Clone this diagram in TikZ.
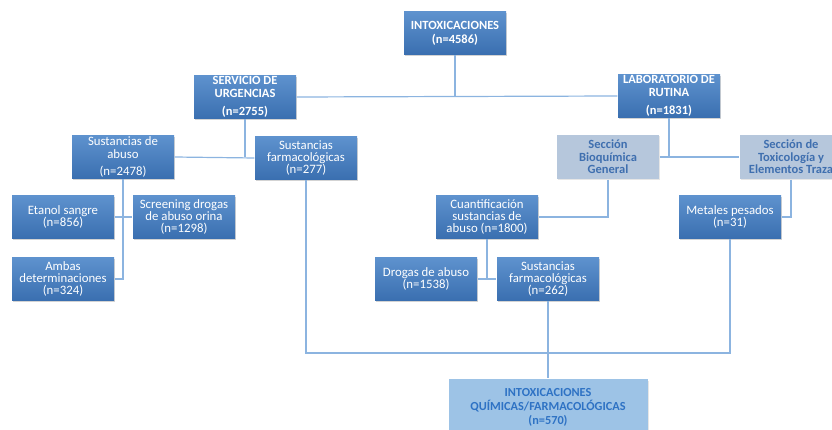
\documentclass[tikz,border=0pt]{standalone}
\usepackage{fontspec}
\setmainfont{Carlito}
\usepackage{tikz}
\usetikzlibrary{positioning,shadows}
\usepackage{xcolor}

\definecolor{boxtop}{HTML}{5E92CE}
\definecolor{boxbot}{HTML}{3A6FB0}
\definecolor{linkblue}{HTML}{8CB4E0}
\definecolor{greybox}{HTML}{B6C7DC}
\definecolor{greytext}{HTML}{3F6FAF}
\definecolor{paleblue}{HTML}{9DC3E6}
\definecolor{deepblue}{HTML}{2E72C4}

\begin{document}
\begin{tikzpicture}[
x=1pt,
y=-1pt,
line width=1.2pt,
font=\fontsize{12.8}{12.2}\selectfont,
every node/.style={align=center, inner sep=1pt},
bluebox/.style={
minimum width=102pt,
minimum height=43pt,
top color=boxtop,
bottom color=boxbot,
text=white,
drop shadow={shadow xshift=1pt, shadow yshift=-1.5pt, opacity=0.35}
},
greybox/.style={
minimum width=102pt,
minimum height=44pt,
fill=greybox,
text=greytext,
font=\fontsize{12.5}{12.5}\selectfont\bfseries,
drop shadow={shadow xshift=1pt, shadow yshift=-1.5pt, opacity=0.2}
},
endbox/.style={
minimum width=199pt,
minimum height=56pt,
fill=paleblue,
text=deepblue,
font=\fontsize{12.3}{14}\selectfont\bfseries,
drop shadow={shadow xshift=1pt, shadow yshift=-1.5pt, opacity=0.2}
},
link/.style={draw=linkblue}
]

\useasboundingbox (0,0) rectangle (832,430);

\node[bluebox,font=\fontsize{12.5}{14}\selectfont\bfseries] (intox) at (455,33) {INTOXICACIONES\\(n=4586)};
\node[bluebox,font=\fontsize{12.5}{13}\selectfont\bfseries] (serv) at (245,97) {SERVICIO DE\\URGENCIAS\\[5pt](n=2755)};
\node[bluebox,font=\fontsize{12.5}{13}\selectfont\bfseries] (lab) at (669,96) {LABORATORIO DE\\RUTINA\\[5pt](n=1831)};

\node[bluebox] (abuso) at (123,157) {Sustancias de\\abuso\\[5pt](n=2478)};
\node[bluebox] (farm) at (306,158) {Sustancias\\farmacológicas\\(n=277)};
\node[greybox] (bioq) at (608,157) {Sección\\Bioquímica\\General};
\node[greybox] (toxi) at (791,157) {Sección de\\Toxicología y\\Elementos Traza};

\node[bluebox] (etanol) at (63,217) {Etanol sangre\\(n=856)};
\node[bluebox] (screen) at (184,217) {Screening drogas\\de abuso orina\\(n=1298)};
\node[bluebox] (ambas) at (63,279) {Ambas\\determinaciones\\(n=324)};
\node[bluebox] (cuant) at (487,217) {Cuantificación\\sustancias de\\abuso (n=1800)};
\node[bluebox] (metal) at (730,217) {Metales pesados\\(n=31)};
\node[bluebox] (drogas) at (426,279) {Drogas de abuso\\(n=1538)};
\node[bluebox] (farmb) at (548,279) {Sustancias\\farmacológicas\\(n=262)};

\node[endbox] (final) at (548,407) {INTOXICACIONES\\QUÍMICAS/FARMACOLÓGICAS\\(n=570)};

\coordinate (join) at (548,353);

% ramas
\path[link]
(intox) edge (intox |- serv.east)
(serv.east) edge (lab.west)
(serv) edge (serv |- abuso.east)
(abuso.east) edge (farm.west)
(lab) edge (lab |- bioq.east)
(bioq.east) edge (toxi.west)
(etanol.east) edge (screen.west)
(drogas.east) edge (farmb.west)
(cuant) edge (cuant |- drogas.east)
(farmb) edge (final);

\draw[link] (abuso.south) |- (ambas.east);
\draw[link] (bioq.south) |- (cuant.east);
\draw[link] (toxi.south) |- (metal.east);
\draw[link] (farm.south) |- (join) -| (metal.south);

\end{tikzpicture}
\end{document}
